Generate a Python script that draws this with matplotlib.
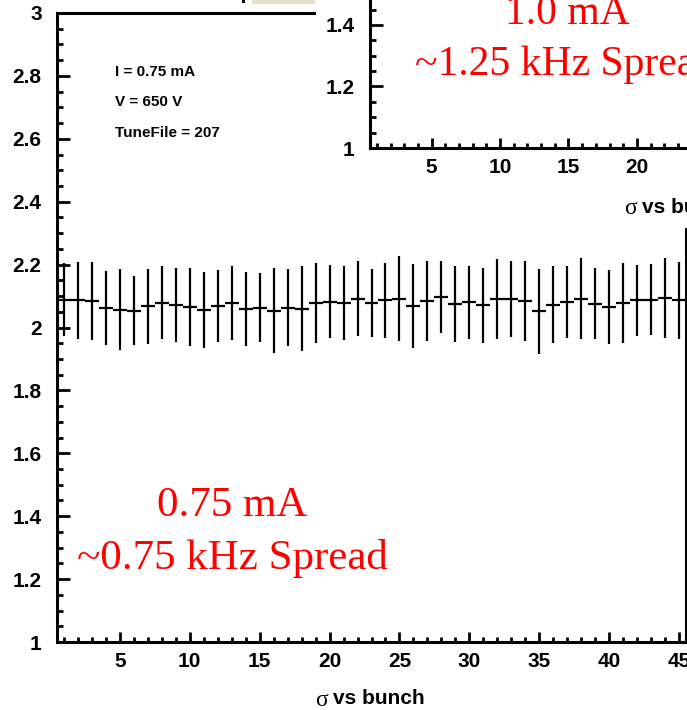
import numpy as np
import matplotlib.pyplot as plt
from matplotlib.ticker import MultipleLocator, FuncFormatter
from matplotlib.patches import Rectangle

# sigma per bunch
bunch = np.arange(1, 46)
sigma = [2.089, 2.087, 2.084, 2.063, 2.057, 2.053, 2.067, 2.078, 2.071, 2.065,
         2.057, 2.068, 2.078, 2.059, 2.063, 2.053, 2.063, 2.060, 2.078, 2.082,
         2.077, 2.092, 2.077, 2.086, 2.091, 2.068, 2.084, 2.097, 2.076, 2.080,
         2.070, 2.091, 2.091, 2.084, 2.051, 2.073, 2.082, 2.092, 2.076, 2.065,
         2.079, 2.086, 2.089, 2.094, 2.087]
sigma_err = [0.117, 0.122, 0.123, 0.118, 0.130, 0.110, 0.119, 0.116, 0.117, 0.125,
             0.121, 0.115, 0.118, 0.118, 0.110, 0.135, 0.122, 0.134, 0.126, 0.116,
             0.117, 0.120, 0.108, 0.118, 0.135, 0.134, 0.126, 0.114, 0.121, 0.116,
             0.120, 0.127, 0.120, 0.127, 0.135, 0.123, 0.114, 0.129, 0.113, 0.118,
             0.127, 0.114, 0.112, 0.127, 0.122]
stats_lines = ["I = 0.75 mA", "V = 650 V", "TuneFile = 207"]
main_note = ["0.75 mA", "~0.75 kHz Spread"]
inset_note = ["1.0 mA", "~1.25 kHz Spread"]

W, H = 687, 710
SANS = "Liberation Sans"
SERIF = "Liberation Serif"


def px(x, y):
    # pixel position -> figure fraction
    return x / W, 1 - y / H


def style_axes(ax):
    ax.set_xlim(0.5, 45.5)
    ax.set_ylim(1, 3)
    ax.xaxis.set_major_locator(MultipleLocator(5))
    ax.xaxis.set_minor_locator(MultipleLocator(1))
    ax.yaxis.set_major_locator(MultipleLocator(0.2))
    ax.yaxis.set_minor_locator(MultipleLocator(0.05))
    ax.yaxis.set_major_formatter(FuncFormatter(lambda v, p: f"{v:g}"))
    ax.xaxis.set_major_formatter(FuncFormatter(lambda v, p: f"{v:g}"))
    for s in ax.spines.values():
        s.set_linewidth(2.2)
    ax.tick_params(which="both", direction="in", top=False, right=False, width=2)
    ax.tick_params(axis="y", which="major", length=9.5, pad=11)
    ax.tick_params(axis="y", which="minor", length=4.5)
    ax.tick_params(axis="x", which="major", length=7.5, pad=7)
    ax.tick_params(axis="x", which="minor", length=3.5)
    for lab in ax.get_xticklabels() + ax.get_yticklabels():
        lab.set_fontfamily(SANS)
        lab.set_fontweight("bold")
        lab.set_fontsize(15)


def axis_title(cx, cy):
    fig.text(*px(cx - 57, cy + 1), "σ", family=SERIF, fontsize=17, va="center")
    fig.text(*px(cx - 39, cy), "vs bunch", family=SANS, fontweight="bold",
             fontsize=15, va="center")


fig = plt.figure(figsize=(W / 100, H / 100), dpi=100)

# main pad
ax = fig.add_axes([57 / W, (H - 642) / H, 629 / W, 629 / H])
style_axes(ax)
ax.errorbar(bunch, sigma, xerr=0.5, yerr=sigma_err, fmt="none",
            ecolor="black", elinewidth=1.6, capsize=0)
axis_title(372, 699)
for i, s in enumerate(stats_lines):
    fig.text(*px(115, 72 + 30.5 * i), s, family=SANS, fontweight="bold",
             fontsize=11, va="center")
fig.text(*px(232, 506), main_note[0], family=SERIF, color="red", fontsize=31,
         ha="center", va="center")
fig.text(*px(232, 558), main_note[1], family=SERIF, color="red", fontsize=31,
         ha="center", va="center")

# the second pad pasted on top (only its lower-left corner is in view)
ins = fig.add_axes([370 / W, (H - 148) / H, 616 / W, 615 / H])
style_axes(ins)
cover = Rectangle(px(316, 228), (W - 316) / W, 228 / H, transform=fig.transFigure,
                  facecolor="white", edgecolor="none", clip_on=False, zorder=0)
ins.add_patch(cover)
fig.text(*px(567, 14), inset_note[0], family=SERIF, color="red", fontsize=30,
         ha="center", va="center")
fig.text(*px(566, 64), inset_note[1], family=SERIF, color="red", fontsize=30,
         ha="center", va="center")
axis_title(681, 207)

# scraps of other pads along the top edge
fig.patches.append(Rectangle(px(252, 4), 63 / W, 4 / H, transform=fig.transFigure,
                             facecolor="#e4e0cc", edgecolor="none"))
fig.patches.append(Rectangle(px(242, 3), 3 / W, 3 / H, transform=fig.transFigure,
                             facecolor="black", edgecolor="none"))

fig.savefig("out.png", dpi=100)
